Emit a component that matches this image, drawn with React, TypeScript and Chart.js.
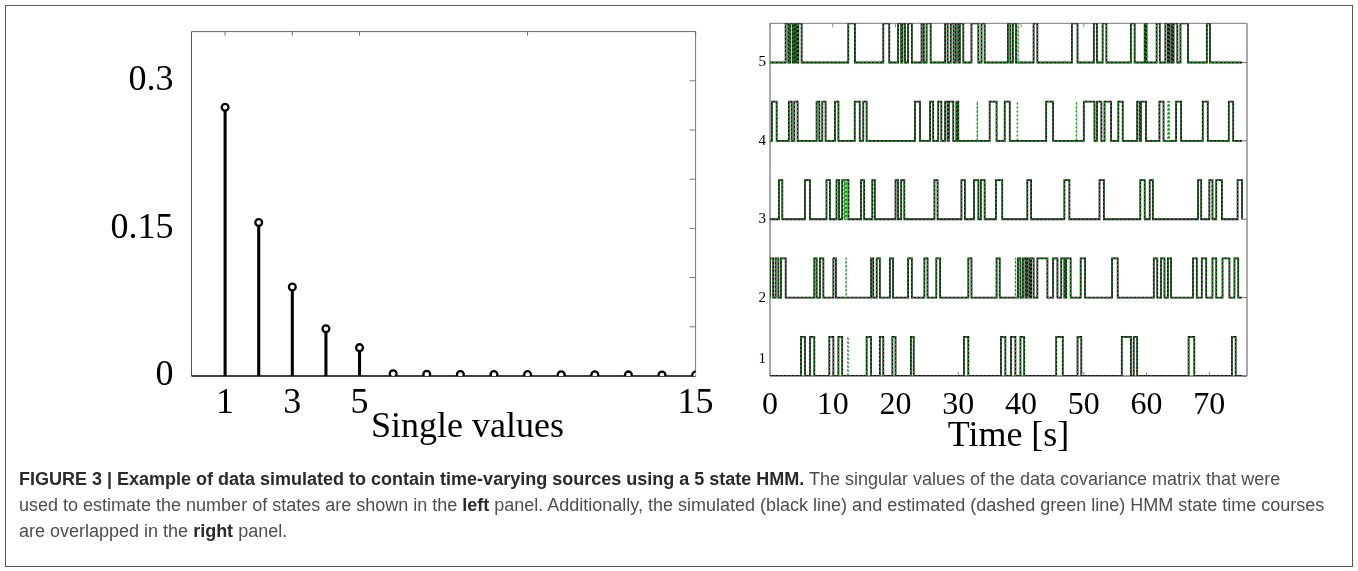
import React, { useEffect, useRef } from "react";
import { Chart, registerables } from "chart.js";
Chart.register(...registerables);

// ---------- Left panel: singular values ----------
const svIndex = [1, 2, 3, 4, 5, 6, 7, 8, 9, 10, 11, 12, 13, 14, 15];
const svValues = [0.273, 0.156, 0.0905, 0.048, 0.0288, 0.0022, 0.0018, 0.0016, 0.0015, 0.0014, 0.0013, 0.0012, 0.0011, 0.001, 0.0009];
const svXTickLabels = [1, 3, 5, 15];
const svXTopTicks = [1, 3, 5, 10, 15];
const svYTickLabels = [0, 0.15, 0.3];
const svYRightTicks = [0.05, 0.1, 0.15, 0.2, 0.25, 0.3];

// ---------- Right panel: HMM state time courses ----------
const timeTickLabels = [0, 10, 20, 30, 40, 50, 60, 70];
const stateLevels = [1, 2, 3, 4, 5];
const traceEnd = 75.2;

const state5Pulses: [number, number][] = [
  [2.49, 2.92], [3.24, 3.66], [3.98, 4.3], [4.51, 5.04],
  [12.47, 13.53], [18.05, 19.0], [20.4, 20.9], [21.1, 21.5], [22.0, 22.6],
  [24.15, 24.5], [24.95, 25.6], [27.9, 28.3], [28.8, 29.25], [29.6, 30.0], [30.25, 30.8],
  [32.1, 33.2], [33.7, 34.2], [37.9, 38.3], [38.7, 39.2], [42.0, 42.6], [48.1, 49.0],
  [51.6, 52.1], [53.0, 53.6], [57.5, 58.1], [59.7, 60.0], [61.6, 62.1], [63.0, 63.4],
  [63.65, 64.0], [64.3, 64.9], [65.4, 66.6], [69.6, 70.1],
];
const state4Pulses: [number, number][] = [
  [0.3, 1.06], [3.0, 3.45], [3.87, 4.4], [7.43, 7.86], [8.33, 8.86], [10.35, 10.9],
  [13.5, 14.3], [14.86, 15.4], [23.1, 23.9], [25.5, 26.0], [26.8, 27.3], [27.9, 28.3],
  [28.5, 29.2], [29.7, 30.0], [35.0, 36.1], [37.4, 38.2], [44.0, 45.1], [50.0, 51.7],
  [52.1, 52.8], [53.3, 54.35], [55.5, 56.2], [58.5, 58.9], [59.1, 59.9], [62.05, 62.7],
  [64.7, 65.5], [68.95, 69.75], [73.1, 73.8],
];
const state3Pulses: [number, number][] = [
  [1.43, 1.96], [5.57, 6.37], [9.0, 9.55], [10.6, 11.0], [11.5, 12.5], [14.5, 15.0],
  [16.3, 16.7], [20.0, 20.4], [20.9, 21.4], [26.2, 26.7], [30.5, 31.05], [32.5, 33.2],
  [33.6, 34.2], [36.0, 37.0], [41.0, 41.6], [46.9, 47.7], [52.5, 53.2], [59.0, 59.7],
  [60.5, 61.0], [68.2, 68.7], [70.0, 70.5], [71.1, 72.0], [74.5, 75.2],
];
const state2Pulses: [number, number][] = [
  [0, 0.5], [0.9, 1.33], [1.75, 2.5], [7.06, 7.43], [7.96, 8.5], [10.1, 10.5],
  [16.1, 16.45], [17.0, 17.5], [19.1, 19.6], [22.0, 22.6], [24.6, 25.1], [26.5, 27.1],
  [31.6, 32.1], [36.1, 36.6], [39.5, 39.9], [40.3, 40.7], [41.0, 41.35], [41.6, 42.0],
  [42.6, 44.2], [45.1, 45.8], [46.4, 46.9], [47.2, 47.9], [49.5, 50.2], [54.5, 55.4],
  [61.15, 61.7], [62.3, 62.85], [63.4, 63.9], [67.4, 68.0], [68.8, 69.5], [70.5, 71.1],
  [72.1, 73.2], [74.0, 74.6],
];
const state1Pulses: [number, number][] = [
  [4.94, 5.57], [6.37, 7.06], [9.45, 10.1], [10.9, 11.5], [15.4, 16.1], [17.5, 18.05],
  [19.5, 20.0], [22.45, 22.9], [30.9, 31.6], [36.8, 37.5], [38.4, 39.1], [39.9, 40.5],
  [45.6, 46.65], [49.0, 49.6], [56.05, 57.5], [57.95, 58.5], [66.7, 67.6], [73.6, 74.2],
];
// extra brief switches that appear only in the estimated (green dashed) courses
const state5Spikes = [39.5];
const state4Spikes = [33.0, 39.4, 48.8, 63.4, 63.6];
const state3Spikes = [11.8, 12.0, 12.2];
const state2Spikes = [12.1, 39.1];
const state1Spikes = [12.4];

const simPulses = [state1Pulses, state2Pulses, state3Pulses, state4Pulses, state5Pulses];
const estSpikes = [state1Spikes, state2Spikes, state3Spikes, state4Spikes, state5Spikes];

const SERIF = '"Liberation Serif", "Times New Roman", serif';

function stepTrace(level: number, pulses: [number, number][]) {
  const pts: { x: number; y: number }[] = [{ x: 0, y: level }];
  const sorted = [...pulses].sort((p, q) => p[0] - q[0]);
  for (const [a, b] of sorted) {
    pts.push({ x: a, y: level }, { x: a, y: level + 0.5 }, { x: b, y: level + 0.5 }, { x: b, y: level });
  }
  pts.push({ x: traceEnd, y: level });
  return pts;
}

type Side = { side: string; color: string; width: number; value?: number };
type Ticks = { axis: string; side: string; values: number[]; len: number; color: string; width: number };
type Txt = { text: string; font: string; x: number; y: number; align: CanvasTextAlign; baseline: CanvasTextBaseline };

function axesPlugin(sides: Side[], ticks: Ticks[], texts: (chart: any) => Txt[]) {
  return {
    id: "matlabAxes",
    beforeDatasetsDraw(chart: any) {
      const { ctx, chartArea: a, scales } = chart;
      ctx.save();
      for (const s of sides) {
        ctx.beginPath();
        ctx.strokeStyle = s.color;
        ctx.lineWidth = s.width;
        if (s.side === "top") { ctx.moveTo(a.left, a.top); ctx.lineTo(a.right, a.top); }
        if (s.side === "bottom") { ctx.moveTo(a.left, a.bottom); ctx.lineTo(a.right, a.bottom); }
        if (s.side === "left") { ctx.moveTo(a.left, a.top); ctx.lineTo(a.left, a.bottom); }
        if (s.side === "right") { ctx.moveTo(a.right, a.top); ctx.lineTo(a.right, a.bottom); }
        if (s.side === "base") {
          const y = scales.y.getPixelForValue(s.value);
          ctx.moveTo(a.left, y); ctx.lineTo(a.right, y);
        }
        ctx.stroke();
      }
      for (const t of ticks) {
        const sc = scales[t.axis];
        ctx.strokeStyle = t.color;
        ctx.lineWidth = t.width;
        for (const v of t.values) {
          const p = sc.getPixelForValue(v);
          ctx.beginPath();
          if (t.side === "top") { ctx.moveTo(p, a.top); ctx.lineTo(p, a.top + t.len); }
          if (t.side === "bottom") { ctx.moveTo(p, a.bottom); ctx.lineTo(p, a.bottom - t.len); }
          if (t.side === "right") { ctx.moveTo(a.right, p); ctx.lineTo(a.right - t.len, p); }
          if (t.side === "left") { ctx.moveTo(a.left, p); ctx.lineTo(a.left + t.len, p); }
          ctx.stroke();
        }
      }
      ctx.restore();
    },
    afterDraw(chart: any) {
      const { ctx } = chart;
      for (const t of texts(chart)) {
        ctx.save();
        ctx.font = t.font;
        ctx.fillStyle = "#000";
        ctx.textAlign = t.align;
        ctx.textBaseline = t.baseline;
        ctx.fillText(t.text, t.x, t.y);
        ctx.restore();
      }
    },
  };
}

function SingularValuesChart() {
  const ref = useRef<HTMLCanvasElement>(null);
  useEffect(() => {
    const pts = svIndex.map((x, i) => ({ x, y: svValues[i] }));
    const chart = new Chart(ref.current!, {
      type: "bar",
      data: {
        datasets: [
          { type: "bar", data: pts, backgroundColor: "#000", barThickness: 2.4, order: 2 } as any,
          {
            type: "scatter", data: pts, pointRadius: 3.4, pointBorderWidth: 2.3,
            pointBackgroundColor: "#fff", pointBorderColor: "#000", order: 1,
          } as any,
        ],
      },
      options: {
        animation: false,
        responsive: false,
        devicePixelRatio: 1,
        events: [],
        layout: { padding: { left: 0, top: 23.3, right: 34.4, bottom: 0 } },
        plugins: { legend: { display: false }, tooltip: { enabled: false } },
        scales: {
          x: {
            type: "linear", min: 0, max: 15, offset: false,
            grid: { display: false }, border: { display: false },
            afterBuildTicks: (s: any) => { s.ticks = svXTickLabels.map((v) => ({ value: v })); },
            afterFit: (s: any) => { s.height = 94; },
            ticks: {
              autoSkip: false, maxRotation: 0, color: "#000", padding: 0,
              font: { family: SERIF, size: 36, lineHeight: 1.1 },
              callback: (v: any) => String(v),
            },
          },
          y: {
            type: "linear", min: 0, max: 0.35,
            grid: { display: false }, border: { display: false },
            afterBuildTicks: (s: any) => { s.ticks = svYTickLabels.map((v) => ({ value: v })); },
            afterFit: (s: any) => { s.width = 191.5; },
            ticks: {
              color: "#000", padding: 10,
              font: { family: SERIF, size: 36 },
              callback: (v: any) => String(v),
            },
          },
        },
      },
      plugins: [
        axesPlugin(
          [
            { side: "left", color: "#555", width: 1 },
            { side: "top", color: "#666", width: 1 },
            { side: "right", color: "#777", width: 1 },
            { side: "base", color: "#000", width: 1.6, value: 0 },
          ],
          [
            { axis: "y", side: "right", values: svYRightTicks, len: 6, color: "#777", width: 1 },
            { axis: "x", side: "top", values: svXTopTicks, len: 4, color: "#666", width: 1 },
          ],
          (c: any) => [
            {
              text: "Single values", font: `36px ${SERIF}`,
              x: (c.chartArea.left + c.chartArea.right) / 2 + 24, y: c.chartArea.bottom + 61,
              align: "center", baseline: "alphabetic",
            },
          ]
        ) as any,
      ],
    });
    return () => chart.destroy();
  }, []);
  return <canvas ref={ref} width={730} height={470} style={{ position: "absolute", left: 0, top: 0 }} />;
}

function StateCoursesChart() {
  const ref = useRef<HTMLCanvasElement>(null);
  useEffect(() => {
    const datasets: any[] = [];
    stateLevels.forEach((lvl, i) => {
      const sim = simPulses[i];
      const est = [...sim, ...estSpikes[i].map((t) => [t, t + 0.05] as [number, number])];
      datasets.push({
        data: stepTrace(lvl, sim), borderColor: "#141414", borderWidth: 1.8,
        pointRadius: 0, tension: 0, fill: false, order: 2,
      });
      datasets.push({
        data: stepTrace(lvl, est), borderColor: "#1f9a1f", borderWidth: 1.2, borderDash: [2, 2],
        pointRadius: 0, tension: 0, fill: false, order: 1,
      });
    });
    const chart = new Chart(ref.current!, {
      type: "line",
      data: { datasets },
      options: {
        animation: false,
        responsive: false,
        devicePixelRatio: 1,
        events: [],
        layout: { padding: { left: 40, top: 23.3, right: 43, bottom: 0 } },
        plugins: { legend: { display: false }, tooltip: { enabled: false } },
        scales: {
          x: {
            type: "linear", min: 0, max: 76,
            grid: { display: false }, border: { display: false },
            afterBuildTicks: (s: any) => { s.ticks = timeTickLabels.map((v) => ({ value: v })); },
            afterFit: (s: any) => { s.height = 94; },
            ticks: {
              autoSkip: false, maxRotation: 0, color: "#000", padding: 2,
              font: { family: SERIF, size: 32, lineHeight: 1.2 },
              callback: (v: any) => String(v),
            },
          },
          y: { type: "linear", min: 1, max: 5.5, display: false },
        },
      },
      plugins: [
        axesPlugin(
          [
            { side: "left", color: "#555", width: 1 },
            { side: "top", color: "#777", width: 1 },
            { side: "right", color: "#aaa", width: 2 },
            { side: "bottom", color: "#333", width: 1 },
          ],
          [
            { axis: "x", side: "bottom", values: timeTickLabels, len: 4, color: "#888", width: 1 },
            { axis: "x", side: "top", values: timeTickLabels, len: 4, color: "#888", width: 1 },
            { axis: "y", side: "right", values: stateLevels, len: 5, color: "#777", width: 1 },
          ],
          (c: any) => [
            ...stateLevels.map((v) => ({
              text: String(v), font: `15px ${SERIF}`,
              x: c.chartArea.left - 4,
              y: Math.min(c.scales.y.getPixelForValue(v), c.chartArea.bottom - 17),
              align: "right" as CanvasTextAlign, baseline: "middle" as CanvasTextBaseline,
            })),
            {
              text: "Time [s]", font: `36px ${SERIF}`,
              x: (c.chartArea.left + c.chartArea.right) / 2, y: c.chartArea.bottom + 70,
              align: "center" as CanvasTextAlign, baseline: "alphabetic" as CanvasTextBaseline,
            },
          ]
        ) as any,
      ],
    });
    return () => chart.destroy();
  }, []);
  return <canvas ref={ref} width={560} height={470} style={{ position: "absolute", left: 730, top: 0 }} />;
}

export default function App() {
  return (
    <div style={{ position: "absolute", left: 0, top: 0, width: 1358, height: 571, background: "#fff", overflow: "hidden" }}>
      <div style={{ position: "absolute", left: 5, top: 5, width: 1348, height: 562, border: "1.5px solid #555", boxSizing: "border-box" }} />
      <SingularValuesChart />
      <StateCoursesChart />
      <div
        style={{
          position: "absolute", left: 19, top: 466, whiteSpace: "nowrap",
          fontFamily: '"Liberation Sans", Arial, sans-serif', fontSize: 18, lineHeight: "26px", color: "#4d4d4d",
        }}
      >
        <b style={{ color: "#2a2a2a" }}>FIGURE 3 | Example of data simulated to contain time-varying sources using a 5 state HMM.</b>{" "}
        The singular values of the data covariance matrix that were
        <br />
        used to estimate the number of states are shown in the <b style={{ color: "#2a2a2a" }}>left</b> panel. Additionally, the simulated (black line) and estimated (dashed green line) HMM state time courses
        <br />
        are overlapped in the <b style={{ color: "#2a2a2a" }}>right</b> panel.
      </div>
    </div>
  );
}
